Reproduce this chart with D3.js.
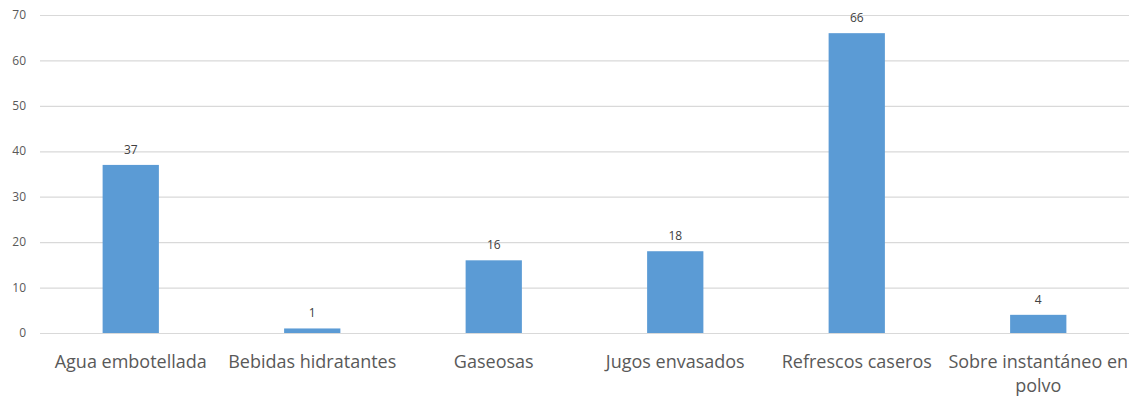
<!DOCTYPE html>
<html><head><meta charset="utf-8">
<script src="https://cdn.jsdelivr.net/npm/d3@7"></script>
<style>body{margin:0;background:#fff}svg{display:block}</style>
</head><body><svg id="c" width="1137" height="400"></svg>
<script>
const categories = [["Agua embotellada"],["Bebidas hidratantes"],["Gaseosas"],["Jugos envasados"],["Refrescos caseros"],["Sobre instantáneo en","polvo"]];
const values = [37,1,16,18,66,4];
const yTicks = [0,10,20,30,40,50,60,70];

(function(){
const svg = d3.select("#c");
const mLeft = 40, mRight = 1129, mTop = 15, mBottom = 333;
const x = d3.scaleBand().domain(d3.range(values.length)).range([mLeft,mRight]).padding(0);
const y = d3.scaleLinear().domain([0,70]).range([mBottom,mTop]);
const font = "'Open Sans', sans-serif";

svg.append("g").selectAll("line").data(yTicks).join("line")
  .attr("x1",mLeft).attr("x2",mRight).attr("y1",d=>y(d)+0.5).attr("y2",d=>y(d)+0.5)
  .attr("stroke","#d9d9d9").attr("stroke-width",1.2);
svg.append("g").selectAll("text").data(yTicks).join("text")
  .attr("x",26).attr("y",d=>y(d)).attr("dy","0.35em").attr("text-anchor","end")
  .attr("font-family",font).attr("font-size",12).attr("fill","#595959").text(d=>d);

const bw = x.bandwidth()*0.31;
svg.append("g").selectAll("rect").data(values).join("rect")
  .attr("x",(d,i)=>x(i)+x.bandwidth()/2-bw/2).attr("width",bw)
  .attr("y",d=>y(d)).attr("height",d=>mBottom-y(d)).attr("fill","#5b9bd5");
svg.append("g").selectAll("text").data(values).join("text")
  .attr("x",(d,i)=>x(i)+x.bandwidth()/2).attr("y",d=>y(d)-11)
  .attr("text-anchor","middle").attr("font-family",font).attr("font-size",12).attr("fill","#404040").text(d=>d);

const cg = svg.append("g").selectAll("text").data(categories).join("text")
  .attr("x",(d,i)=>x(i)+x.bandwidth()/2).attr("y",368)
  .attr("text-anchor","middle").attr("font-family",font).attr("font-size",18).attr("fill","#595959");
cg.selectAll("tspan").data(d=>d).join("tspan")
  .attr("x",function(){return this.parentNode.getAttribute("x");})
  .attr("dy",(d,j)=>j?24:0).text(d=>d);
})();
</script></body></html>
